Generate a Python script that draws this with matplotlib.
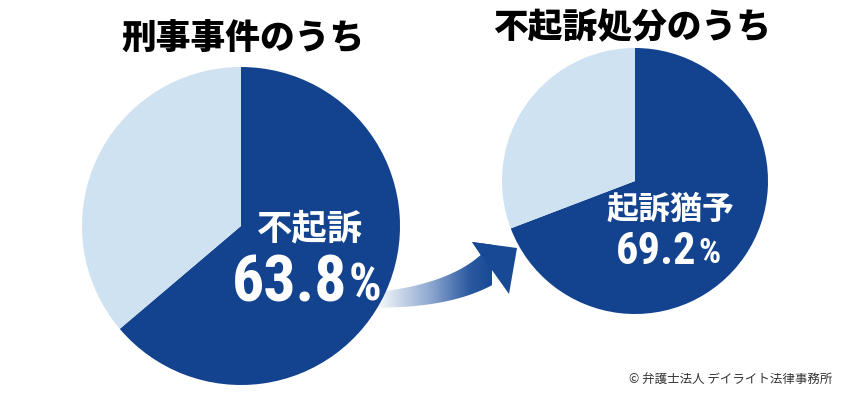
import numpy as np
import matplotlib
matplotlib.use("Agg")
import matplotlib.pyplot as plt
from matplotlib.path import Path
from matplotlib.patches import PathPatch
from matplotlib.colors import LinearSegmentedColormap

plt.rcParams['font.family'] = ['Noto Sans CJK JP', 'DejaVu Sans']

# データ
left_title = "刑事事件のうち"
left_labels = ["不起訴", "起訴など"]
left_values = [63.8, 36.2]

right_title = "不起訴処分のうち"
right_labels = ["起訴猶予", "その他"]
right_values = [69.2, 30.8]

credit = "© 弁護士法人 デイライト法律事務所"

DARK = "#13438f"
LIGHT = "#cfe2f2"
NUM_FONT = ['Roboto Condensed', 'Liberation Sans Narrow', 'Roboto', 'DejaVu Sans']

W, H = 850, 395
fig = plt.figure(figsize=(W / 100, H / 100), dpi=100)
ax = fig.add_axes([0, 0, 1, 1])

# 円グラフ（y軸を反転するので counterclock=True で見た目は時計回り）
wl, _ = ax.pie(left_values, colors=[DARK, LIGHT], startangle=-90, counterclock=True,
               center=(241, 226), radius=159, wedgeprops=dict(linewidth=0))
wr, _ = ax.pie(right_values, colors=[DARK, LIGHT], startangle=-90, counterclock=True,
               center=(635, 181), radius=133, wedgeprops=dict(linewidth=0))
for w in list(wl) + list(wr):
    w.set_zorder(3)

ax.set_xlim(0, W)
ax.set_ylim(H, 0)
ax.set_axis_off()

# 矢印（二次ベジェの軸 + 三角の頭）
p0, p1, p2 = np.array([372, 300]), np.array([450, 297]), np.array([490, 268])
t = np.linspace(0, 1, 40)[:, None]
pts = (1 - t) ** 2 * p0 + 2 * (1 - t) * t * p1 + t ** 2 * p2
tan = 2 * (1 - t) * (p1 - p0) + 2 * t * (p2 - p1)
tan = tan / np.linalg.norm(tan, axis=1, keepdims=True)
nrm = np.column_stack([tan[:, 1], -tan[:, 0]])  # 上側の法線
half = (15 + (32 - 15) * t) / 2
upper = pts + nrm * half
lower = pts - nrm * half
head = np.array([[472, 242], [517, 248], [509, 294]])
verts = np.vstack([upper, head, lower[::-1], upper[:1]])
codes = [Path.MOVETO] + [Path.LINETO] * (len(verts) - 2) + [Path.CLOSEPOLY]
arrow = PathPatch(Path(verts, codes), facecolor="none", edgecolor="none")
ax.add_patch(arrow)

cmap = LinearSegmentedColormap.from_list(
    "arr", [(0, "#f2f5fa"), (0.45, "#8ea8d0"), (0.8, "#2b5aa0"), (1, "#184995")])
grad = np.linspace(0, 1, 256)[None, :]
im = ax.imshow(grad, cmap=cmap, extent=(380, 492, 310, 236), aspect="auto",
               zorder=2, interpolation="bilinear")
im.set_clip_path(arrow)
ax.add_patch(PathPatch(Path(head), facecolor="#184995", edgecolor="none", zorder=2))
ax.set_xlim(0, W)
ax.set_ylim(H, 0)

# タイトル
ax.text(243, 39, left_title, ha="center", va="center", fontsize=25,
        fontweight="black", color="black", zorder=5)
ax.text(632, 28, right_title, ha="center", va="center", fontsize=25,
        fontweight="black", color="black", zorder=5)


def pct_label(x, y, value, size, pct_size):
    num = ax.text(x, y, f"{value:.1f}", ha="left", va="baseline", fontsize=size,
                  family=NUM_FONT, fontweight="bold", color="white", zorder=5)
    ax.annotate("%", xy=(1, 0), xycoords=num, xytext=(1, size * 0.06),
                textcoords="offset points", ha="left", va="bottom",
                fontsize=pct_size, family=NUM_FONT, fontweight="bold",
                color="white", zorder=5)


# 左の円のラベル
ax.text(310, 229, left_labels[0], ha="center", va="center", fontsize=25.5,
        fontweight="bold", color="white", zorder=5)
pct_label(232, 302, left_values[0], 46, 37)

# 右の円のラベル
ax.text(671, 210, right_labels[0], ha="center", va="center", fontsize=23,
        fontweight="bold", color="white", zorder=5)
pct_label(616, 264, right_values[0], 32, 25)

ax.text(832, 379, credit, ha="right", va="center", fontsize=9,
        color="#333333", zorder=5)

fig.savefig("out.png", dpi=100)
